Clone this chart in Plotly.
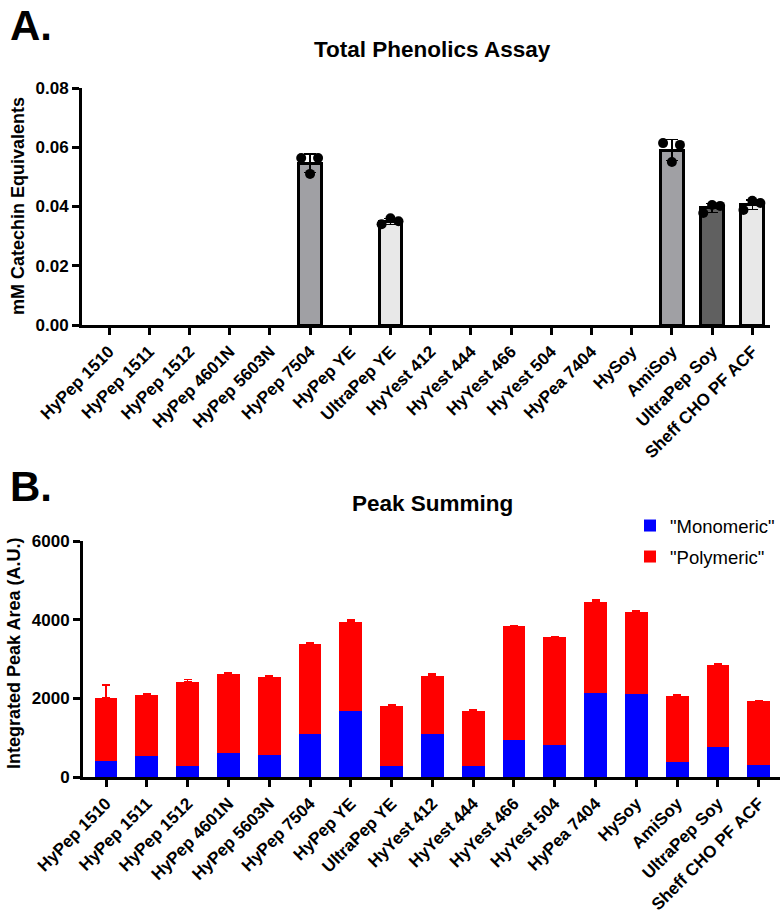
import numpy as np
import plotly.graph_objects as go

categories = ["HyPep 1510", "HyPep 1511", "HyPep 1512", "HyPep 4601N", "HyPep 5603N",
              "HyPep 7504", "HyPep YE", "UltraPep YE", "HyYest 412", "HyYest 444",
              "HyYest 466", "HyYest 504", "HyPea 7404", "HySoy", "AmiSoy",
              "UltraPep Soy", "Sheff CHO PF ACF"]

# Panel A: Total phenolics replicates (mM catechin equivalents); None = not detected
phen_rep1 = [None, None, None, None, None, 0.0564, None, 0.0340, None, None, None, None, None, None, 0.0614, 0.0378, 0.0388]
phen_rep2 = [None, None, None, None, None, 0.0510, None, 0.0360, None, None, None, None, None, None, 0.0550, 0.0405, 0.0419]
phen_rep3 = [None, None, None, None, None, 0.0564, None, 0.0350, None, None, None, None, None, None, 0.0608, 0.0402, 0.0412]
phen_colors = ["#A0A0A4"] * 5 + ["#A0A0A4", "#A0A0A4", "#E8E8E8"] + ["#A0A0A4"] * 6 + ["#A0A0A4", "#606060", "#E8E8E8"]

# Panel B: Peak summing (A.U.)
monomeric = [407, 534, 280, 610, 560, 1093, 1678, 290, 1093, 290, 940, 813, 2136, 2110, 381, 763, 305]
total = [2010, 2085, 2415, 2620, 2545, 3382, 3941, 1815, 2580, 1690, 3840, 3560, 4450, 4195, 2060, 2848, 1935]
monomeric_err = [100, 15, 20, 20, 20, 20, 25, 15, 20, 15, 15, 15, 20, 20, 15, 15, 15]
total_err = [330, 20, 60, 25, 25, 40, 45, 25, 40, 15, 15, 15, 45, 25, 20, 25, 15]

y_ticks_a = [0, 0.02, 0.04, 0.06, 0.08]
y_ticks_b = [0, 2000, 4000, 6000]

FONT = "Liberation Sans, Arial, sans-serif"
W, H = 780, 919
jitter = [-0.22, 0.0, 0.2]

idx = np.arange(len(categories))
reps = np.array([[np.nan if v is None else v for v in r] for r in (phen_rep1, phen_rep2, phen_rep3)])
has = ~np.isnan(reps).all(axis=0)
means = [float(np.nanmean(reps[:, i])) if has[i] else None for i in idx]
sds = [float(np.nanstd(reps[:, i], ddof=1)) if has[i] else 0.0 for i in idx]

polymeric = [t - m for t, m in zip(total, monomeric)]

fig = go.Figure()

fig.add_trace(go.Bar(
    x=idx, y=means, width=0.57,
    marker=dict(color=phen_colors, line=dict(color="black", width=3)),
    error_y=dict(type="data", array=sds, color="black", thickness=1.5, width=6, visible=True),
    xaxis="x", yaxis="y", showlegend=False, hoverinfo="skip"))

for k, r in enumerate((phen_rep1, phen_rep2, phen_rep3)):
    xs = [i + jitter[k] for i in idx if r[i] is not None]
    ys = [r[i] for i in idx if r[i] is not None]
    fig.add_trace(go.Scatter(x=xs, y=ys, mode="markers",
                             marker=dict(color="black", size=10),
                             xaxis="x", yaxis="y", showlegend=False, hoverinfo="skip"))

fig.add_trace(go.Bar(
    x=idx, y=monomeric, width=0.56, name='"Monomeric"',
    marker=dict(color="#0000FF", line=dict(width=0)),
    error_y=dict(type="data", array=monomeric_err, symmetric=False, arrayminus=[0] * len(idx),
                 color="#0000FF", thickness=1.5, width=4),
    xaxis="x2", yaxis="y2", legend="legend"))
fig.add_trace(go.Bar(
    x=idx, y=polymeric, width=0.56, name='"Polymeric"',
    marker=dict(color="#FF0000", line=dict(width=0)),
    error_y=dict(type="data", array=total_err, symmetric=False, arrayminus=[0] * len(idx),
                 color="#FF0000", thickness=1.5, width=4),
    xaxis="x2", yaxis="y2", legend="legend2"))

def tfont(size):
    return dict(family=FONT, size=size, color="black", weight="bold")

axis_common = dict(showline=True, linewidth=3, linecolor="black", ticks="outside",
                   ticklen=7, tickwidth=3, tickcolor="black", showgrid=False, zeroline=False,
                   automargin=False)

def px_x(p):
    return p / W

def px_y(p):
    return 1 - p / H

fig.update_layout(
    width=W, height=H, autosize=False,
    margin=dict(l=0, r=0, t=0, b=0, autoexpand=False),
    plot_bgcolor="white", paper_bgcolor="white",
    barmode="stack",
    xaxis=dict(domain=[px_x(82), px_x(770)], anchor="y", range=[-0.672, 16.44],
               tickmode="array", tickvals=list(idx), ticktext=categories, tickangle=-45,
               tickfont=tfont(17), **axis_common),
    yaxis=dict(domain=[px_y(325), px_y(88)], anchor="x", range=[0, 0.08],
               tickmode="array", tickvals=y_ticks_a, tickformat=".2f",
               tickfont=tfont(17), **axis_common),
    xaxis2=dict(domain=[px_x(83), 1.0], anchor="y2", range=[-0.564, 16.52],
                tickmode="array", tickvals=list(idx), ticktext=categories, tickangle=-45,
                tickfont=tfont(17), **axis_common),
    yaxis2=dict(domain=[px_y(777), px_y(541)], anchor="x2", range=[0, 6000],
                tickmode="array", tickvals=y_ticks_b, tickfont=tfont(17), **axis_common),
    legend=dict(x=px_x(630), y=px_y(526), xanchor="left", yanchor="middle",
                font=dict(family=FONT, size=18.5, color="black"), bgcolor="rgba(0,0,0,0)"),
    legend2=dict(x=px_x(630), y=px_y(557), xanchor="left", yanchor="middle",
                 font=dict(family=FONT, size=18.5, color="black"), bgcolor="rgba(0,0,0,0)"),
    showlegend=True,
)

ann = [
    dict(text="<b>A.</b>", x=px_x(8), y=px_y(25), xanchor="left", yanchor="middle", size=42),
    dict(text="<b>Total Phenolics Assay</b>", x=px_x(432), y=px_y(50), xanchor="center", yanchor="middle", size=22.5),
    dict(text="<b>mM Catechin Equivalents</b>", x=px_x(18), y=px_y(206), xanchor="center", yanchor="middle", size=18, angle=-90),
    dict(text="<b>B.</b>", x=px_x(8), y=px_y(486), xanchor="left", yanchor="middle", size=42),
    dict(text="<b>Peak Summing</b>", x=px_x(432), y=px_y(503), xanchor="center", yanchor="middle", size=22.5),
    dict(text="<b>Integrated Peak Area (A.U.)</b>", x=px_x(14), y=px_y(654), xanchor="center", yanchor="middle", size=18, angle=-90),
]
for a in ann:
    fig.add_annotation(text=a["text"], x=a["x"], y=a["y"], xref="paper", yref="paper",
                       xanchor=a["xanchor"], yanchor=a["yanchor"], showarrow=False,
                       textangle=a.get("angle", 0),
                       font=dict(family=FONT, size=a["size"], color="black"))

fig.write_html("out.html")
